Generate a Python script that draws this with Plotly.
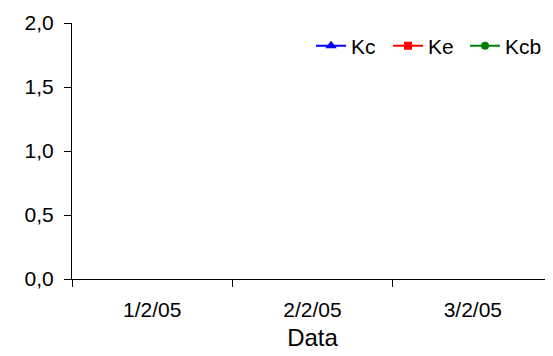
import plotly.graph_objects as go

categories = ["1/2/05", "2/2/05", "3/2/05"]
kc_values = [None, None, None]
ke_values = [None, None, None]
kcb_values = [None, None, None]
y_ticks = [0.0, 0.5, 1.0, 1.5, 2.0]

fig = go.Figure()
fig.add_trace(go.Scatter(x=categories, y=kc_values, name="Kc", mode="lines+markers",
                         line=dict(color="#0000FF", width=2),
                         marker=dict(symbol="triangle-up", size=10, color="#0000FF")))
fig.add_trace(go.Scatter(x=categories, y=ke_values, name="Ke", mode="lines+markers",
                         line=dict(color="#FF0000", width=2),
                         marker=dict(symbol="square", size=8, color="#FF0000")))
fig.add_trace(go.Scatter(x=categories, y=kcb_values, name="Kcb", mode="lines+markers",
                         line=dict(color="#008000", width=2),
                         marker=dict(symbol="circle", size=8, color="#008000")))

fig.update_layout(
    width=545, height=348,
    margin=dict(l=64, r=0, t=15, b=77, autoexpand=False),
    paper_bgcolor="white", plot_bgcolor="white",
    separators=",.",
    font=dict(family="Liberation Sans, Arial, sans-serif", size=21, color="black"),
    showlegend=True,
    legend=dict(orientation="h", x=0.497, xanchor="left", y=0.91, yanchor="middle",
                font=dict(size=21), bgcolor="rgba(0,0,0,0)",
                entrywidth=32, entrywidthmode="pixels",
                tracegroupgap=0),
    xaxis=dict(type="category", categoryorder="array", categoryarray=categories,
               range=[-0.5, 2.5], tickson="boundaries", ticks="outside", ticklen=7,
               tickcolor="black", showline=True, linecolor="black", linewidth=1,
               showgrid=False, zeroline=False, ticklabelstandoff=12,
               title=dict(text="Data", font=dict(size=24), standoff=8),
               tickfont=dict(size=21)),
    yaxis=dict(range=[0, 2], tickvals=y_ticks, tickformat=".1f", ticks="outside",
               ticklen=7, tickcolor="black", showline=True, linecolor="black",
               linewidth=1, showgrid=False, zeroline=False, ticklabelstandoff=6,
               tickfont=dict(size=21)),
)

fig.write_html("out.html")
